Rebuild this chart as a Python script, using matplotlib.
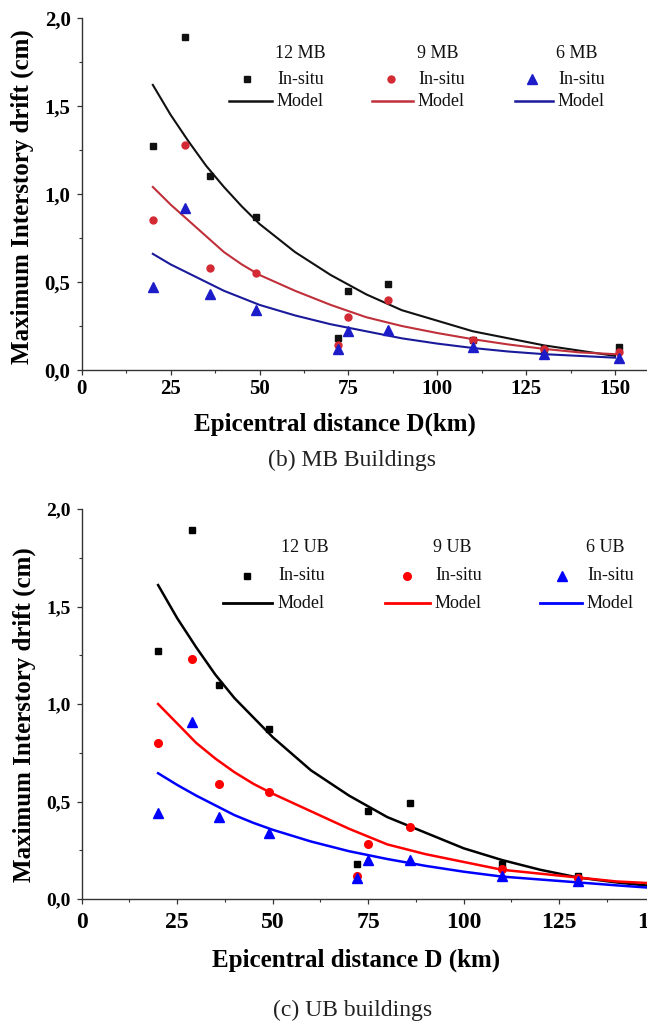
import matplotlib
matplotlib.use("Agg")
import matplotlib.pyplot as plt
from matplotlib.lines import Line2D
from matplotlib.ticker import MultipleLocator, FuncFormatter

# ---------------- data ----------------
dist_mb = [20, 29, 36, 49, 72, 75, 86, 110, 130, 151]
mb12_insitu = [1.27, 1.89, 1.10, 0.87, 0.18, 0.45, 0.49, 0.17, 0.12, 0.13]
mb9_insitu = [0.85, 1.28, 0.58, 0.55, 0.14, 0.30, 0.40, 0.17, 0.12, 0.10]
mb6_insitu = [0.47, 0.92, 0.43, 0.34, 0.12, 0.22, 0.23, 0.13, 0.09, 0.07]

dist_ub = [20, 29, 36, 49, 72, 75, 86, 110, 130]
ub12_insitu = [1.27, 1.89, 1.10, 0.87, 0.18, 0.45, 0.49, 0.18, 0.12]
ub9_insitu = [0.80, 1.23, 0.59, 0.55, 0.12, 0.28, 0.37, 0.155, 0.11]
ub6_insitu = [0.44, 0.91, 0.42, 0.34, 0.11, 0.20, 0.20, 0.12, 0.09]

model_dist = [20, 25, 30, 35, 40, 45, 50, 60, 70, 80, 90, 100, 110, 120, 130, 140, 150]
mb12_model = [1.62, 1.45, 1.30, 1.16, 1.04, 0.93, 0.83, 0.67, 0.54, 0.43, 0.34, 0.28, 0.22, 0.18, 0.14, 0.11, 0.08]
mb9_model = [1.04, 0.94, 0.85, 0.76, 0.67, 0.60, 0.54, 0.45, 0.37, 0.30, 0.25, 0.21, 0.175, 0.145, 0.12, 0.10, 0.09]
mb6_model = [0.66, 0.60, 0.55, 0.50, 0.45, 0.41, 0.37, 0.31, 0.26, 0.22, 0.18, 0.15, 0.125, 0.105, 0.09, 0.08, 0.07]

ub12_model = [1.61, 1.44, 1.29, 1.15, 1.03, 0.93, 0.83, 0.66, 0.53, 0.42, 0.34, 0.26, 0.20, 0.15, 0.11, 0.085, 0.065]
ub9_model = [1.00, 0.90, 0.80, 0.72, 0.65, 0.59, 0.54, 0.45, 0.36, 0.28, 0.23, 0.19, 0.15, 0.13, 0.11, 0.09, 0.08]
ub6_model = [0.645, 0.585, 0.53, 0.48, 0.43, 0.39, 0.355, 0.295, 0.245, 0.205, 0.17, 0.14, 0.115, 0.10, 0.085, 0.07, 0.056]

mb_titles = ["12 MB", "9 MB", "6 MB"]
ub_titles = ["12 UB", "9 UB", "6 UB"]
legend_labels = ["In-situ", "Model"]
x_label_mb = "Epicentral distance D(km)"
x_label_ub = "Epicentral distance D (km)"
y_label = "Maximum Interstory drift (cm)"
caption_mb = "(b) MB Buildings"
caption_ub = "(c) UB buildings"

# ---------------- figure ----------------
W, H = 647, 1025
fig = plt.figure(figsize=(W / 100, H / 100), dpi=100)
fig.patch.set_facecolor("white")
SERIF = ["Liberation Serif", "DejaVu Serif"]


def fx(px):
    return px / W


def fy(py):
    return 1 - py / H


def style_axes(ax, xsize, ysize, xpad):
    for s in ("top", "right"):
        ax.spines[s].set_visible(False)
    for s in ("left", "bottom"):
        ax.spines[s].set_color("#333333")
        ax.spines[s].set_linewidth(1.0)
    ax.set_ylim(0, 2.0)
    ax.xaxis.set_major_locator(MultipleLocator(25))
    ax.xaxis.set_minor_locator(MultipleLocator(12.5))
    ax.yaxis.set_major_locator(MultipleLocator(0.5))
    ax.yaxis.set_minor_locator(MultipleLocator(0.25))
    ax.yaxis.set_major_formatter(FuncFormatter(lambda v, p: f"{v:.1f}".replace(".", ",")))
    ax.xaxis.set_major_formatter(FuncFormatter(lambda v, p: f"{v:.0f}"))
    ax.tick_params(which="major", direction="out", length=3.5, width=0.9, color="#333333")
    ax.tick_params(which="minor", direction="out", length=2.5, width=0.8, color="#333333")
    ax.tick_params(axis="x", which="major", pad=xpad)
    ax.tick_params(axis="y", which="major", pad=4.5)
    for lab in ax.get_xticklabels():
        lab.set_fontfamily(SERIF)
        lab.set_fontweight("bold")
        lab.set_fontsize(xsize)
    for lab in ax.get_yticklabels():
        lab.set_fontfamily(SERIF)
        lab.set_fontweight("bold")
        lab.set_fontsize(ysize)


def legend_block(title, tx, ty, mx, my, marker, mcolor, msize, lx0, lx1, ly, lcolor, textx, lw):
    fig.text(fx(tx), fy(ty), title, ha="center", va="center", fontsize=13,
             family=SERIF, color="#111111")
    fig.add_artist(Line2D([fx(mx)], [fy(my)], transform=fig.transFigure, marker=marker,
                          color=mcolor, markersize=msize, linestyle="none"))
    fig.text(fx(textx), fy(my), legend_labels[0], ha="left", va="center", fontsize=13,
             family=SERIF, color="#111111")
    fig.add_artist(Line2D([fx(lx0), fx(lx1)], [fy(ly), fy(ly)], transform=fig.transFigure,
                          color=lcolor, lw=lw))
    fig.text(fx(textx), fy(ly), legend_labels[1], ha="left", va="center", fontsize=13,
             family=SERIF, color="#111111")


# ---------------- top panel (MB) ----------------
ax1 = fig.add_axes([fx(81.7), fy(370), 160 * 3.556 / W, 352 / H])
ax1.set_xlim(0, 160)
c_blk, c_red_m, c_red_l, c_blu_m, c_blu_l = "#111111", "#d42a34", "#c0303a", "#1c1cc8", "#1a1a9a"
ax1.plot(model_dist, mb12_model, color=c_blk, lw=1.5)
ax1.plot(model_dist, mb9_model, color=c_red_l, lw=1.5)
ax1.plot(model_dist, mb6_model, color=c_blu_l, lw=1.5)
ax1.plot(dist_mb, mb12_insitu, "s", color=c_blk, markersize=5)
ax1.plot(dist_mb, mb9_insitu, "o", color=c_red_m, markersize=5)
ax1.plot(dist_mb, mb6_insitu, "^", color=c_blu_m, markersize=7)
style_axes(ax1, 15, 15, 3.0)
fig.text(fx(335), fy(424), x_label_mb, ha="center", va="center", fontsize=18,
         fontweight="bold", family=SERIF)
fig.text(fx(22), fy(197), y_label, ha="center", va="center", fontsize=18,
         fontweight="bold", family=SERIF, rotation=90)
fig.text(fx(352), fy(460), caption_mb, ha="center", va="center", fontsize=17, family=SERIF,
         color="#222222")

legend_block(mb_titles[0], 300, 54, 247, 79, "s", c_blk, 5, 229, 272, 101, c_blk, 277, 1.8)
legend_block(mb_titles[1], 438, 54, 391, 79, "o", c_red_m, 5, 372, 413, 101, c_red_l, 418, 1.8)
legend_block(mb_titles[2], 577, 54, 532, 79, "^", c_blu_m, 7, 515, 553, 101, c_blu_l, 558, 1.8)

# ---------------- bottom panel (UB) ----------------
ax2 = fig.add_axes([fx(81.7), fy(899), 160 * 3.82 / W, 390 / H])
ax2.set_xlim(0, 160)
ax2.plot(model_dist, ub12_model, color="black", lw=1.8)
ax2.plot(model_dist, ub9_model, color="#ff0000", lw=1.8)
ax2.plot(model_dist, ub6_model, color="#0000ff", lw=1.8)
ax2.plot(dist_ub, ub12_insitu, "s", color="black", markersize=5)
ax2.plot(dist_ub, ub9_insitu, "o", color="#ff0000", markersize=5.5)
ax2.plot(dist_ub, ub6_insitu, "^", color="#0000ff", markersize=7.5)
style_axes(ax2, 17, 14, 5.5)
fig.text(fx(356), fy(960), x_label_ub, ha="center", va="center", fontsize=18,
         fontweight="bold", family=SERIF)
fig.text(fx(24), fy(715), y_label, ha="center", va="center", fontsize=18,
         fontweight="bold", family=SERIF, rotation=90)
fig.text(fx(353), fy(1010), caption_ub, ha="center", va="center", fontsize=17, family=SERIF,
         color="#222222")

legend_block(ub_titles[0], 305, 547, 247, 576, "s", "black", 5, 223, 272, 603, "black", 278, 2.0)
legend_block(ub_titles[1], 452, 547, 407, 576, "o", "#ff0000", 5.5, 385, 430, 603, "#ff0000", 435, 2.0)
legend_block(ub_titles[2], 605, 547, 562, 576, "^", "#0000ff", 7.5, 540, 582, 603, "#0000ff", 587, 2.0)

fig.savefig("out.png", dpi=100, facecolor="white")
